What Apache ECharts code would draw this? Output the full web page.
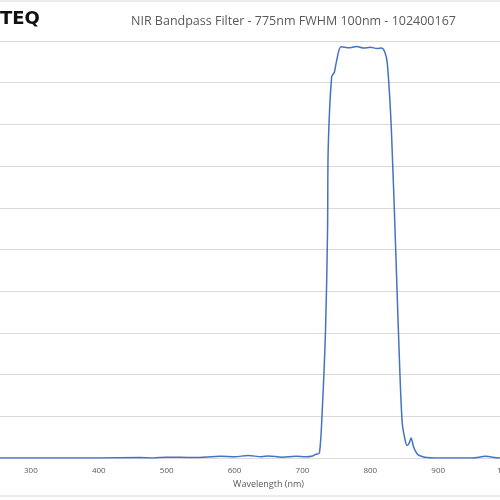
<!DOCTYPE html>
<html>
<head>
<meta charset="utf-8">
<script src="https://cdn.jsdelivr.net/npm/echarts@6/dist/echarts.min.js"></script>
<style>
  html, body { margin: 0; padding: 0; background: #fff; }
  #chart { width: 500px; height: 500px; }
</style>
</head>
<body>
<div id="chart"></div>
<script>
// wavelength (nm) and transmission (%)
const wavelengths = [200, 300, 400, 460, 480, 500, 540, 580, 600, 620, 640, 650, 670, 690, 705, 715, 720, 725, 729, 734, 737, 738, 743, 747, 750, 757, 770, 780, 790, 800, 810, 816, 821, 825, 831, 838, 843, 847, 851, 854, 857, 860, 864, 870, 880, 900, 950, 970, 990, 1100];
const transmission = [0, 0, 0, 0.1, 0, 0.2, 0.1, 0.4, 0.3, 0.6, 0.3, 0.5, 0.2, 0.4, 0.3, 0.5, 0.9, 1.2, 10.8, 30.7, 54.7, 74.6, 91.4, 92.5, 95, 98.6, 98.4, 98.7, 98.3, 98.5, 98.2, 98.3, 97.5, 94.7, 78.7, 46.8, 22.8, 8.4, 4.5, 3, 3.5, 4.8, 2.5, 0.8, 0.2, 0, 0, 0.4, 0, 0];
const yTicks = [0, 10, 20, 30, 40, 50, 60, 70, 80, 90, 100];

const chart = echarts.init(document.getElementById('chart'));
chart.setOption({
  animation: false,
  graphic: [
    { type: 'line', shape: { x1: 0, y1: 1, x2: 500, y2: 1 }, style: { stroke: '#d9d9d9', lineWidth: 1 } },
    { type: 'line', shape: { x1: 0, y1: 496, x2: 500, y2: 496 }, style: { stroke: '#d9d9d9', lineWidth: 1 } },
    { type: 'text', left: 0, top: 10, style: { text: 'TEQ', font: 'bold 18px "DejaVu Sans"', fill: '#111' } }
  ],
  title: {
    text: 'NIR Bandpass Filter - 775nm FWHM 100nm - 102400167',
    left: 126, top: 10,
    textStyle: { fontFamily: 'Open Sans', fontSize: 12.5, fontWeight: 'normal', color: '#595959' }
  },
  grid: { left: -37, right: -74, top: 41, bottom: 42, outerBoundsMode: 'none', containLabel: false },
  xAxis: {
    type: 'value', min: 200, max: 1100, interval: 100,
    name: 'Wavelength (nm)', nameLocation: 'middle', nameGap: 22,
    nameTextStyle: { fontFamily: 'Open Sans', fontSize: 9, color: '#595959' },
    axisLine: { lineStyle: { color: '#d9d9d9' } },
    axisTick: { show: false },
    axisLabel: { fontFamily: 'Open Sans', fontSize: 8, color: '#595959', margin: 9, formatter: v => String(v) },
    splitLine: { show: false }
  },
  yAxis: {
    type: 'value', min: yTicks[0], max: yTicks[yTicks.length - 1], interval: 10,
    axisLabel: { show: false }, axisLine: { show: false }, axisTick: { show: false },
    splitLine: { lineStyle: { color: '#d9d9d9' } }
  },
  series: [{
    type: 'line', smooth: 0.3, symbol: 'none',
    data: wavelengths.map((w, i) => [w, transmission[i]]),
    lineStyle: { color: '#4472c4', width: 1.5 }
  }]
});
</script>
</body>
</html>
